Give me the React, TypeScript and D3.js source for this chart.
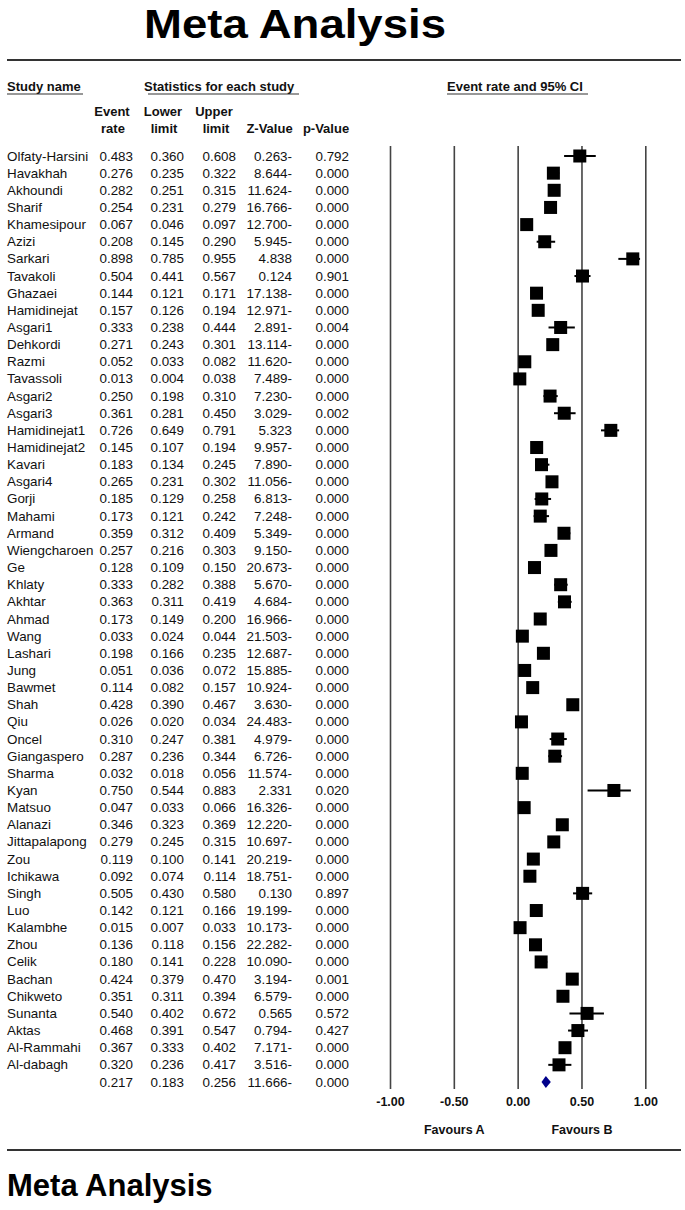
import React from "react";
import * as d3 from "d3";

const studies = ["Olfaty-Harsini","Havakhah","Akhoundi","Sharif","Khamesipour","Azizi","Sarkari","Tavakoli","Ghazaei","Hamidinejat","Asgari1","Dehkordi","Razmi","Tavassoli","Asgari2","Asgari3","Hamidinejat1","Hamidinejat2","Kavari","Asgari4","Gorji","Mahami","Armand","Wiengcharoen","Ge","Khlaty","Akhtar","Ahmad","Wang","Lashari","Jung","Bawmet","Shah","Qiu","Oncel","Giangaspero","Sharma","Kyan","Matsuo","Alanazi","Jittapalapong","Zou","Ichikawa","Singh","Luo","Kalambhe","Zhou","Celik","Bachan","Chikweto","Sunanta","Aktas","Al-Rammahi","Al-dabagh"];
const eventRates = [0.483,0.276,0.282,0.254,0.067,0.208,0.898,0.504,0.144,0.157,0.333,0.271,0.052,0.013,0.250,0.361,0.726,0.145,0.183,0.265,0.185,0.173,0.359,0.257,0.128,0.333,0.363,0.173,0.033,0.198,0.051,0.114,0.428,0.026,0.310,0.287,0.032,0.750,0.047,0.346,0.279,0.119,0.092,0.505,0.142,0.015,0.136,0.180,0.424,0.351,0.540,0.468,0.367,0.320];
const lowerLimits = [0.360,0.235,0.251,0.231,0.046,0.145,0.785,0.441,0.121,0.126,0.238,0.243,0.033,0.004,0.198,0.281,0.649,0.107,0.134,0.231,0.129,0.121,0.312,0.216,0.109,0.282,0.311,0.149,0.024,0.166,0.036,0.082,0.390,0.020,0.247,0.236,0.018,0.544,0.033,0.323,0.245,0.100,0.074,0.430,0.121,0.007,0.118,0.141,0.379,0.311,0.402,0.391,0.333,0.236];
const upperLimits = [0.608,0.322,0.315,0.279,0.097,0.290,0.955,0.567,0.171,0.194,0.444,0.301,0.082,0.038,0.310,0.450,0.791,0.194,0.245,0.302,0.258,0.242,0.409,0.303,0.150,0.388,0.419,0.200,0.044,0.235,0.072,0.157,0.467,0.034,0.381,0.344,0.056,0.883,0.066,0.369,0.315,0.141,0.114,0.580,0.166,0.033,0.156,0.228,0.470,0.394,0.672,0.547,0.402,0.417];
const zValues = [-0.263,-8.644,-11.624,-16.766,-12.700,-5.945,4.838,0.124,-17.138,-12.971,-2.891,-13.114,-11.620,-7.489,-7.230,-3.029,5.323,-9.957,-7.890,-11.056,-6.813,-7.248,-5.349,-9.150,-20.673,-5.670,-4.684,-16.966,-21.503,-12.687,-15.885,-10.924,-3.630,-24.483,-4.979,-6.726,-11.574,2.331,-16.326,-12.220,-10.697,-20.219,-18.751,0.130,-19.199,-10.173,-22.282,-10.090,-3.194,-6.579,0.565,-0.794,-7.171,-3.516];
const pValues = [0.792,0,0,0,0,0,0,0.901,0,0,0.004,0,0,0,0,0.002,0,0,0,0,0,0,0,0,0,0,0,0,0,0,0,0,0,0,0,0,0,0.020,0,0,0,0,0,0.897,0,0,0,0,0.001,0,0.572,0.427,0,0];
const summary = { rate: 0.217, lower: 0.183, upper: 0.256, z: -11.666, p: 0.000 };
const axisTicks = [-1, -0.5, 0, 0.5, 1];

const fmt = (v: number) => v.toFixed(3);
const fmtZ = (v: number) => (v < 0 ? Math.abs(v).toFixed(3) + "-" : v.toFixed(3));

export default function App() {
  const W = 685, H = 1210;
  const font = "'Liberation Sans', Arial, sans-serif";
  const x = d3.scaleLinear().domain([-1, 1]).range([390.5, 645.8]);
  const nRows = studies.length + 1;
  const y = d3.scaleLinear().domain([0, nRows - 1]).range([156, 1082]);
  const rows = studies.map((s, i) => ({ name: s, rate: eventRates[i], lo: lowerLimits[i], hi: upperLimits[i], z: zValues[i], p: pValues[i] }));
  const fs = 13.4;
  const colX = { rate: 133, lo: 184, hi: 236, z: 292, p: 349 };
  const sq = 13;
  const diamond = d3.line<[number, number]>()([
    [x(summary.lower), y(nRows - 1)],
    [x(summary.rate), y(nRows - 1) - 6],
    [x(summary.upper), y(nRows - 1)],
    [x(summary.rate), y(nRows - 1) + 6],
  ]) + "Z";

  const dataRow = (vals: { rate: number; lo: number; hi: number; z: number; p: number }, yy: number) => (
    <>
      <text x={colX.rate} y={yy} textAnchor="end">{fmt(vals.rate)}</text>
      <text x={colX.lo} y={yy} textAnchor="end">{fmt(vals.lo)}</text>
      <text x={colX.hi} y={yy} textAnchor="end">{fmt(vals.hi)}</text>
      <text x={colX.z} y={yy} textAnchor="end">{fmtZ(vals.z)}</text>
      <text x={colX.p} y={yy} textAnchor="end">{fmt(vals.p)}</text>
    </>
  );

  return (
    <svg width={W} height={H} style={{ position: "absolute", left: 0, top: 0, background: "#fff" }} fontFamily={font}>
      <text x={295} y={38} textAnchor="middle" fontSize={41} fontWeight="bold" fill="#000" textLength={302} lengthAdjust="spacingAndGlyphs">Meta Analysis</text>
      <line x1={7} x2={681} y1={60} y2={60} stroke="#333" strokeWidth={2} />

      <g fontSize={13} fontWeight="bold" fill="#111">
        <text x={7} y={91}>Study name</text>
        <line x1={7} x2={83} y1={94} y2={94} stroke="#333" strokeWidth={1.2} />
        <text x={144} y={91}>Statistics for each study</text>
        <line x1={148} x2={299} y1={94} y2={94} stroke="#333" strokeWidth={1.2} />
        <text x={447} y={91}>Event rate and 95% CI</text>
        <line x1={447} x2={588} y1={94} y2={94} stroke="#333" strokeWidth={1.2} />

        <text x={112} y={116} textAnchor="middle">Event</text>
        <text x={113} y={133} textAnchor="middle">rate</text>
        <text x={163} y={116} textAnchor="middle">Lower</text>
        <text x={164} y={133} textAnchor="middle">limit</text>
        <text x={214} y={116} textAnchor="middle">Upper</text>
        <text x={216} y={133} textAnchor="middle">limit</text>
        <text x={269.5} y={133} textAnchor="middle">Z-Value</text>
        <text x={326} y={133} textAnchor="middle">p-Value</text>
      </g>

      <g fontSize={fs} fill="#111" dominantBaseline="central">
        {rows.map((r, i) => (
          <g key={r.name}>
            <text x={7} y={y(i)}>{r.name}</text>
            {dataRow(r, y(i))}
          </g>
        ))}
        {dataRow({ rate: summary.rate, lo: summary.lower, hi: summary.upper, z: summary.z, p: summary.p }, y(nRows - 1))}
      </g>

      <g>
        {axisTicks.map((t) => (
          <line key={t} x1={x(t)} x2={x(t)} y1={146} y2={1089} stroke="#444" strokeWidth={1.6} />
        ))}
      </g>

      <g>
        {rows.map((r, i) => (
          <g key={r.name}>
            <line x1={x(r.lo)} x2={x(r.hi)} y1={y(i)} y2={y(i)} stroke="#000" strokeWidth={2} />
            <rect x={x(r.rate) - sq / 2} y={y(i) - sq / 2} width={sq} height={sq} fill="#000" />
          </g>
        ))}
        <path d={diamond} fill="#00008B" />
      </g>

      <g fontSize={12.5} fontWeight="bold" fill="#111" textAnchor="middle" dominantBaseline="central">
        {axisTicks.map((t) => (
          <text key={t} x={x(t)} y={1102}>{t.toFixed(2)}</text>
        ))}
        <text x={x(-0.5)} y={1130}>Favours A</text>
        <text x={x(0.5)} y={1130}>Favours B</text>
      </g>

      <line x1={7} x2={681} y1={1150} y2={1150} stroke="#333" strokeWidth={2} />
      <text x={7} y={1196} fontSize={31} fontWeight="bold" fill="#000">Meta Analysis</text>
    </svg>
  );
}
